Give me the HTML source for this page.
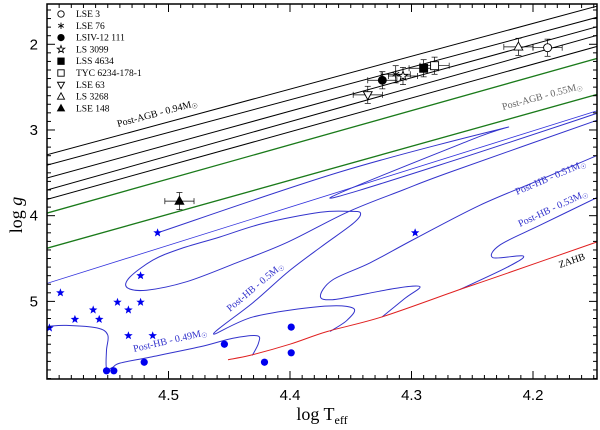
<!DOCTYPE html>
<html><head><meta charset="utf-8"><style>
body{margin:0;background:#fff}
svg{display:block}
.lg{font-family:"Liberation Serif",serif;font-size:9.5px}
.tk{font-family:"Liberation Sans",sans-serif;font-size:15px}
</style></head><body>
<svg id="c" width="600" height="430" xmlns="http://www.w3.org/2000/svg"></svg>
<script>
const agbLeftG=[3.29,3.41,3.56,3.70,3.81];
const agbRightG=[1.55,1.68,1.79,1.89,2.02];
const greenLeftG=[3.97,4.38];
const greenRightG=[2.16,2.58];
const zahbT=[4.451,4.433,4.400,4.369,4.324,4.260,4.233,4.146];
const zahbG=[5.68,5.63,5.50,5.35,5.18,4.86,4.73,4.30];
const hb049T=[4.431,4.426,4.427,4.447,4.474,4.515,4.540,4.546,4.551,4.551,4.550,4.559,4.584,4.599];
const hb049G=[5.63,5.49,5.40,5.43,5.53,5.65,5.72,5.77,5.78,5.57,5.39,5.31,5.28,5.29];
const hb050T=[4.367,4.353,4.348,4.375,4.430,4.463,4.430,4.402,4.375,4.348,4.342,4.351,4.375,4.422,4.458,4.491,4.513,4.532,4.534,4.518,4.485,4.444,4.402,4.353,4.307,4.268,4.146];
const hb050G=[5.35,5.22,5.08,5.06,5.18,5.38,5.01,4.66,4.37,4.09,3.97,3.95,3.96,4.09,4.25,4.39,4.52,4.72,4.84,4.87,4.77,4.55,4.31,3.96,3.70,3.49,2.88];
const hb051T=[4.324,4.305,4.293,4.310,4.337,4.365,4.375,4.365,4.334,4.296,4.244,4.194,4.146];
const hb051G=[5.18,4.96,4.83,4.84,4.91,4.98,4.94,4.75,4.55,4.26,3.88,3.58,3.29];
const hb053T=[4.260,4.221,4.208,4.233,4.227,4.194,4.146];
const hb053G=[4.86,4.60,4.47,4.49,4.34,4.11,3.78];
const hb055T=[4.600,4.146];
const hb055G=[4.79,2.77];
const hbStarT=[4.509,4.359,4.227,4.252,4.367,4.277,4.146];
const hbStarG=[4.20,3.49,2.99,3.12,3.79,3.41,2.80];
const starT=[4.509,4.523,4.589,4.542,4.523,4.562,4.533,4.577,4.557,4.598,4.533,4.513,4.297];
const starG=[4.20,4.70,4.90,5.01,5.01,5.10,5.10,5.21,5.21,5.31,5.40,5.40,4.20];
const dotT=[4.551,4.545,4.520,4.454,4.421,4.399,4.399];
const dotG=[5.81,5.81,5.71,5.50,5.71,5.30,5.60];
const objNames=["LSE 3","LSE 76","LSIV-12 111","LS 3099","LSS 4634","TYC 6234-178-1","LSE 63","LS 3268","LSE 148"];
const objSym=["ocircle","aster","circle","ostar","square","osquare","otridown","otri","tri"];
const objT=[4.188,4.313,4.324,4.307,4.290,4.281,4.336,4.212,4.491];
const objG=[2.04,2.35,2.42,2.37,2.28,2.25,2.59,2.03,3.83];
const objErrT=[0.012,0.012,0.012,0.012,0.012,0.012,0.012,0.012,0.012];
const objErrG=[0.1,0.1,0.1,0.1,0.1,0.1,0.1,0.1,0.1];
const xTicks=[4.5,4.4,4.3,4.2];
const yTicks=[2,3,4,5];

const NS="http://www.w3.org/2000/svg";
const svg=document.getElementById('c');
const X0=47,X1=597,Y0=4,Y1=379;
const X=t=>47+(4.6-t)*1215;
const Y=g=>4+(g-1.53)*85.7;
function mk(tag,at,parent){const e=document.createElementNS(NS,tag);for(const k in at)e.setAttribute(k,at[k]);(parent||svg).appendChild(e);return e;}
const defs=mk('defs',{});
const cp=mk('clipPath',{id:'cl'},defs);
mk('rect',{x:X0,y:Y0,width:X1-X0,height:Y1-Y0},cp);
const plot=mk('g',{'clip-path':'url(#cl)'});



function smooth(pts){
  if(pts.length<3)return 'M'+pts.map(p=>p[0].toFixed(1)+','+p[1].toFixed(1)).join('L');
  let d='M'+pts[0][0].toFixed(1)+','+pts[0][1].toFixed(1);
  for(let i=0;i<pts.length-1;i++){
    const p0=pts[i-1]||pts[i],p1=pts[i],p2=pts[i+1],p3=pts[i+2]||p2;
    const c1=[p1[0]+(p2[0]-p0[0])/6,p1[1]+(p2[1]-p0[1])/6];
    const c2=[p2[0]-(p3[0]-p1[0])/6,p2[1]-(p3[1]-p1[1])/6];
    d+=`C${c1[0].toFixed(1)},${c1[1].toFixed(1)} ${c2[0].toFixed(1)},${c2[1].toFixed(1)} ${p2[0].toFixed(1)},${p2[1].toFixed(1)}`;
  }
  return d;
}
function line(ts,gs,col,w,name){
  const p=mk('path',{d:smooth(ts.map((t,i)=>[X(t),Y(gs[i])])),fill:'none',stroke:col,'stroke-width':w,'stroke-linejoin':'round'},plot);
  
  
}
agbLeftG.forEach((g,i)=>line([4.6,4.146],[g,agbRightG[i]],'#000',1,'post-agb-track'));
greenLeftG.forEach((g,i)=>line([4.6,4.146],[g,greenRightG[i]],'#1a7a1a',1.3,'post-agb-green-track'));
line(hb055T,hb055G,'#3333dd',0.8,'post-hb-055-track');
line(hbStarT,hbStarG,'#3333cc',1,'post-hb-track');
line(hb050T,hb050G,'#3333cc',1,'post-hb-050-track');
line(hb049T,hb049G,'#3333cc',1,'post-hb-049-track');
line(hb051T,hb051G,'#3333cc',1,'post-hb-051-track');
line(hb053T,hb053G,'#3333cc',1,'post-hb-053-track');
line(zahbT,zahbG,'#e02020',1,'zahb-line');

function starPath(cx,cy,r){let d='';for(let i=0;i<10;i++){const a=-Math.PI/2+i*Math.PI/5;const rr=i%2?r*0.42:r;d+=(i?'L':'M')+(cx+rr*Math.cos(a)).toFixed(1)+','+(cy+rr*Math.sin(a)).toFixed(1);}return d+'Z';}
starT.forEach((t,i)=>{const p=mk('path',{d:starPath(X(t),Y(starG[i]),4.5),fill:'#0000ee'},plot);
  
  });
dotT.forEach((t,i)=>{const c=mk('circle',{cx:X(t),cy:Y(dotG[i]),r:3.6,fill:'#0000ee'},plot);
  
  });

function sym(type,x,y,s,parent){
  const g=mk('g',{},parent);
  const st={stroke:'#000','stroke-width':0.9};
  const f=type.startsWith('o')||type==='aster'?'#fff':'#000';
  if(type==='ocircle'||type==='circle')mk('circle',Object.assign({cx:x,cy:y,r:s,fill:f},st),g);
  else if(type==='square'||type==='osquare')mk('rect',Object.assign({x:x-s,y:y-s,width:2*s,height:2*s,fill:f},st),g);
  else if(type==='tri'||type==='otri')mk('path',Object.assign({d:`M${x},${y-s*1.2}L${x+s*1.1},${y+s*0.8}L${x-s*1.1},${y+s*0.8}Z`,fill:f},st),g);
  else if(type==='otridown')mk('path',Object.assign({d:`M${x},${y+s*1.2}L${x+s*1.1},${y-s*0.8}L${x-s*1.1},${y-s*0.8}Z`,fill:f},st),g);
  else if(type==='ostar')mk('path',Object.assign({d:starPath(x,y,s*1.2),fill:f},st),g);
  else if(type==='aster'){for(let k=0;k<3;k++){const a=k*Math.PI/3;mk('line',Object.assign({x1:x-s*Math.sin(a),y1:y-s*Math.cos(a),x2:x+s*Math.sin(a),y2:y+s*Math.cos(a)},st),g);}}
  return g;
}
objT.forEach((t,i)=>{
  const x=X(t),y=Y(objG[i]);
  const g=mk('g',{},plot);
  
  
  const xl=X(t+objErrT[i]),xr=X(t-objErrT[i]),yt=Y(objG[i]-objErrG[i]),yb=Y(objG[i]+objErrG[i]);
  const st={stroke:'#000','stroke-width':0.7};
  mk('line',Object.assign({x1:xl,y1:y,x2:xr,y2:y},st),g);
  mk('line',Object.assign({x1:xl,y1:y-3,x2:xl,y2:y+3},st),g);
  mk('line',Object.assign({x1:xr,y1:y-3,x2:xr,y2:y+3},st),g);
  mk('line',Object.assign({x1:x,y1:yt,x2:x,y2:yb},st),g);
  mk('line',Object.assign({x1:x-3,y1:yt,x2:x+3,y2:yt},st),g);
  mk('line',Object.assign({x1:x-3,y1:yb,x2:x+3,y2:yb},st),g);
  sym(objSym[i],x,y,4,g);
});

const fr=mk('rect',{x:X0,y:Y0,width:X1-X0,height:Y1-Y0,fill:'none',stroke:'#000','stroke-width':1.5});


for(let k=415;k<=460;k++){const t=k/100;const x=X(t);if(x<X0||x>X1)continue;const major=k%10===0;const L=major?8:4;
  mk('line',{x1:x,y1:Y1,x2:x,y2:Y1-L,stroke:'#000','stroke-width':1});
  mk('line',{x1:x,y1:Y0,x2:x,y2:Y0+L,stroke:'#000','stroke-width':1});}
for(let k=15;k<=59;k++){const g=k/10;const y=Y(g);if(y<Y0||y>Y1)continue;const major=k%10===0;const L=major?8:4;
  mk('line',{x1:X0,y1:y,x2:X0+L,y2:y,stroke:'#000','stroke-width':1});
  mk('line',{x1:X1,y1:y,x2:X1-L,y2:y,stroke:'#000','stroke-width':1});}
xTicks.forEach(t=>{const e=mk('text',{x:X(t),y:400,'text-anchor':'middle',class:'tk'});e.textContent=t.toFixed(1);
  
  });
yTicks.forEach(g=>{const e=mk('text',{x:38,y:Y(g)+5,'text-anchor':'end',class:'tk'});e.textContent=String(g);
  
  });

const lg=mk('g',{});


objNames.forEach((n,i)=>{const y=14+i*11.8;
  const e=mk('g',{},lg);
  
  
  sym(objSym[i],61,y,3.2,e);
  const t=mk('text',{x:76,y:y+3,class:'lg'},e);t.textContent=n;});
</script>
<svg width="600" height="430" style="position:absolute;left:0;top:0;pointer-events:none" xmlns="http://www.w3.org/2000/svg">
<g font-family="Liberation Serif,serif" font-size="10">
<text x="118" y="127" transform="rotate(-15 118 127)" fill="#000">Post-AGB - 0.94M<tspan font-size="7" dy="2">☉</tspan></text>
<text x="503" y="110" transform="rotate(-15 503 110)" fill="#666">Post-AGB - 0.55M<tspan font-size="7" dy="2">☉</tspan></text>
<text x="517" y="195" transform="rotate(-23 517 195)" fill="#3333cc">Post-HB - 0.51M<tspan font-size="7" dy="2">☉</tspan></text>
<text x="520" y="227" transform="rotate(-25 520 227)" fill="#3333cc">Post-HB - 0.53M<tspan font-size="7" dy="2">☉</tspan></text>
<text x="560" y="268" transform="rotate(-19 560 268)" fill="#000">ZAHB</text>
<text x="230" y="312" transform="rotate(-40 230 312)" fill="#3333cc">Post-HB - 0.5M<tspan font-size="7" dy="2">☉</tspan></text>
<text x="134" y="352" transform="rotate(-13 134 352)" fill="#3333cc">Post-HB - 0.49M<tspan font-size="7" dy="2">☉</tspan></text>
</g>
<text x="322" y="420" text-anchor="middle" font-family="Liberation Serif,serif" font-size="18">log T<tspan font-size="12" dy="4">eff</tspan></text>
<text x="22" y="215" text-anchor="middle" transform="rotate(-90 22 215)" font-family="Liberation Serif,serif" font-size="18">log <tspan font-style="italic">g</tspan></text>
</svg>
</body></html>
